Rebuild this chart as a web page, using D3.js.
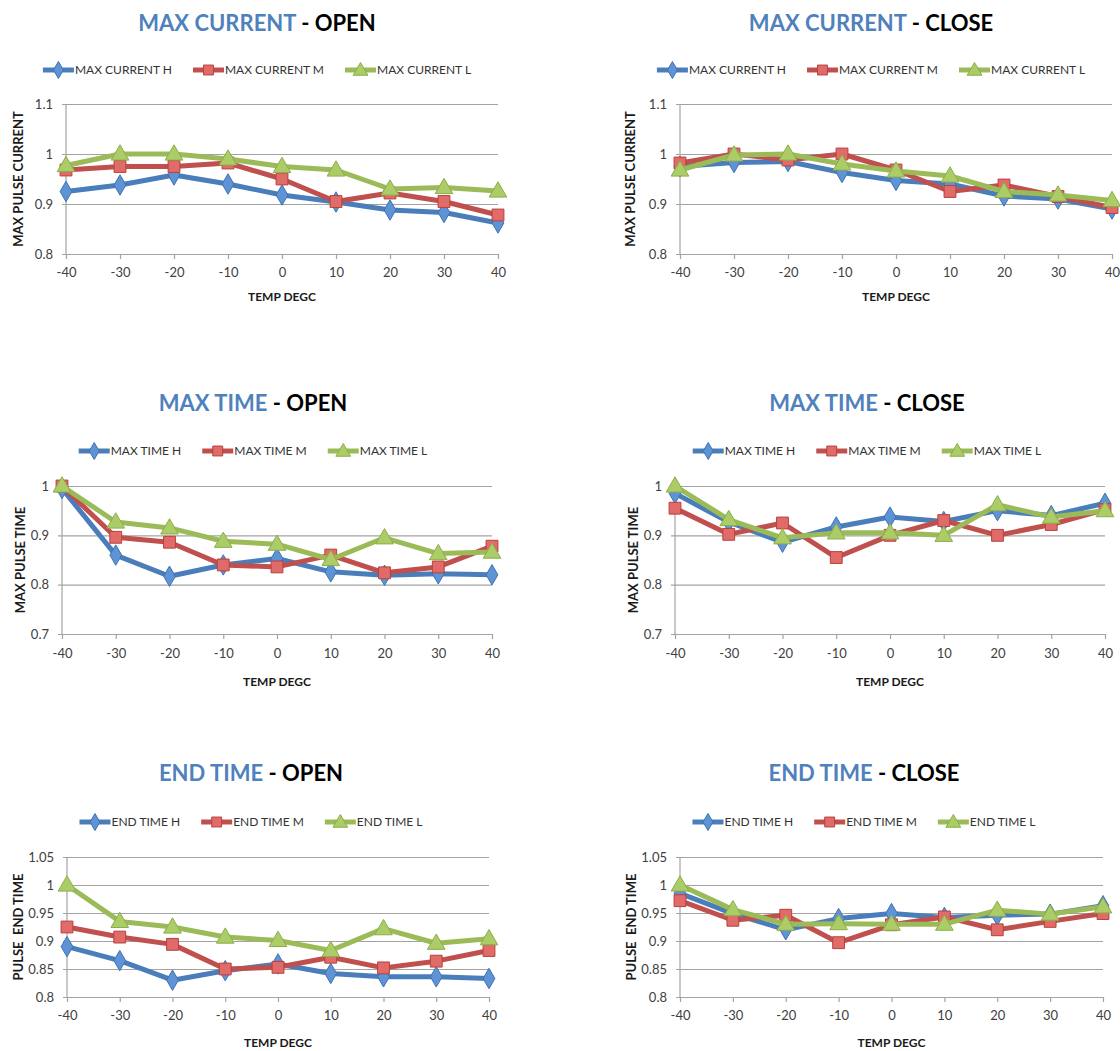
<!DOCTYPE html>
<html><head><meta charset="utf-8">
<script src="https://cdn.jsdelivr.net/npm/d3@7"></script>
<style>body{margin:0;background:#fff}svg{display:block}</style>
</head><body>
<script>
// ---------- DATA ----------
const temps = [-40, -30, -20, -10, 0, 10, 20, 30, 40];

const curOpenH  = [0.925, 0.938, 0.958, 0.940, 0.918, 0.904, 0.888, 0.883, 0.862];
const curOpenM  = [0.968, 0.975, 0.975, 0.982, 0.950, 0.905, 0.922, 0.905, 0.878];
const curOpenL  = [0.977, 1.000, 1.000, 0.990, 0.975, 0.968, 0.930, 0.933, 0.926];

const curCloseH = [0.975, 0.983, 0.985, 0.963, 0.947, 0.940, 0.916, 0.910, 0.890];
const curCloseM = [0.982, 1.000, 0.988, 1.000, 0.968, 0.925, 0.938, 0.915, 0.893];
const curCloseL = [0.968, 0.998, 1.000, 0.980, 0.966, 0.956, 0.925, 0.918, 0.907];

const timeOpenH  = [0.995, 0.860, 0.817, 0.840, 0.853, 0.826, 0.819, 0.822, 0.820];
const timeOpenM  = [1.000, 0.896, 0.886, 0.840, 0.836, 0.860, 0.824, 0.836, 0.878];
const timeOpenL  = [1.000, 0.927, 0.915, 0.888, 0.882, 0.851, 0.895, 0.863, 0.866];

const timeCloseH = [0.985, 0.927, 0.886, 0.917, 0.937, 0.928, 0.950, 0.940, 0.965];
const timeCloseM = [0.955, 0.902, 0.925, 0.855, 0.900, 0.930, 0.900, 0.922, 0.952];
const timeCloseL = [1.000, 0.932, 0.895, 0.905, 0.905, 0.900, 0.962, 0.937, 0.950];

const endOpenH  = [0.890, 0.865, 0.830, 0.847, 0.859, 0.842, 0.836, 0.836, 0.833];
const endOpenM  = [0.925, 0.907, 0.894, 0.850, 0.853, 0.871, 0.852, 0.864, 0.883];
const endOpenL  = [1.000, 0.935, 0.925, 0.907, 0.901, 0.883, 0.922, 0.896, 0.904];

const endCloseH = [0.985, 0.949, 0.920, 0.940, 0.949, 0.942, 0.946, 0.948, 0.963];
const endCloseM = [0.972, 0.937, 0.946, 0.897, 0.929, 0.943, 0.920, 0.935, 0.949];
const endCloseL = [1.000, 0.956, 0.930, 0.931, 0.930, 0.930, 0.955, 0.948, 0.961];

const ticksCurrent = [0.8, 0.9, 1, 1.1];
const ticksMaxTime = [0.7, 0.8, 0.9, 1];
const ticksEndTime = [0.8, 0.85, 0.9, 0.95, 1, 1.05];

const charts = [
  {t1: "MAX CURRENT", t2: " - OPEN",  yTitle: "MAX PULSE CURRENT", prefix: "MAX CURRENT", ticks: ticksCurrent, series: [curOpenH, curOpenM, curOpenL]},
  {t1: "MAX CURRENT", t2: " - CLOSE", yTitle: "MAX PULSE CURRENT", prefix: "MAX CURRENT", ticks: ticksCurrent, series: [curCloseH, curCloseM, curCloseL]},
  {t1: "MAX TIME", t2: " - OPEN",  yTitle: "MAX PULSE TIME", prefix: "MAX TIME", ticks: ticksMaxTime, series: [timeOpenH, timeOpenM, timeOpenL]},
  {t1: "MAX TIME", t2: " - CLOSE", yTitle: "MAX PULSE TIME", prefix: "MAX TIME", ticks: ticksMaxTime, series: [timeCloseH, timeCloseM, timeCloseL]},
  {t1: "END TIME", t2: " - OPEN",  yTitle: "PULSE  END TIME", prefix: "END TIME", ticks: ticksEndTime, series: [endOpenH, endOpenM, endOpenL]},
  {t1: "END TIME", t2: " - CLOSE", yTitle: "PULSE  END TIME", prefix: "END TIME", ticks: ticksEndTime, series: [endCloseH, endCloseM, endCloseL]}
];
const seriesSuffix = ["H", "M", "L"];
const xTitle = "TEMP DEGC";

// ---------- LAYOUT / STYLE ----------
const layouts = [
  {x0: 66,  x1: 498,  yt: 104, yb: 254, titleY: 23,  cx: 257, legY: 70,  xlabY: 275, xtY: 297, ytX: 18},
  {x0: 680, x1: 1112, yt: 104, yb: 254, titleY: 23,  cx: 871, legY: 70,  xlabY: 275, xtY: 297, ytX: 630},
  {x0: 62,  x1: 492,  yt: 486, yb: 634, titleY: 403, cx: 253, legY: 451, xlabY: 656, xtY: 682, ytX: 20},
  {x0: 675, x1: 1105, yt: 486, yb: 634, titleY: 403, cx: 867, legY: 451, xlabY: 656, xtY: 682, ytX: 633},
  {x0: 67,  x1: 489,  yt: 857, yb: 997, titleY: 773, cx: 251, legY: 822, xlabY: 1018, xtY: 1043, ytX: 18},
  {x0: 680, x1: 1103, yt: 857, yb: 997, titleY: 773, cx: 864, legY: 822, xlabY: 1018, xtY: 1043, ytX: 631}
];
const styles = [
  {line: "#4A7EBB", fill: "#5E94D6", stroke: "#3F72B0", shape: d3.symbolDiamond, size: 120},
  {line: "#C0504D", fill: "#E06B68", stroke: "#B8403D", shape: d3.symbolSquare, size: 140},
  {line: "#9BBB59", fill: "#ABCC66", stroke: "#8CAE4A", shape: d3.symbolTriangle, size: 135}
];
const FONT = "Lato, 'Open Sans', 'DejaVu Sans', sans-serif";

const svg = d3.select("body").append("svg").attr("width", 1120).attr("height", 1051)
  .style("font-family", FONT);

charts.forEach((c, ci) => {
  const L = layouts[ci];
  const g = svg.append("g");
  const x = d3.scalePoint().domain(temps).range([L.x0, L.x1]);
  const y = d3.scaleLinear().domain(d3.extent(c.ticks)).range([L.yb, L.yt]);

  // Y axis with gridlines
  const ya = g.append("g").attr("transform", `translate(${L.x0 - 4},0)`)
    .call(d3.axisLeft(y).tickValues(c.ticks).tickFormat(d => String(+d.toFixed(2)))
      .tickSizeInner(-(L.x1 - L.x0 + 4)).tickSizeOuter(0).tickPadding(9));
  ya.select(".domain").remove();
  ya.selectAll(".tick line").attr("stroke", "#a3a3a3").attr("stroke-width", 1.2);
  ya.selectAll(".tick text").attr("fill", "#404040").style("font-size", "13px").style("font-family", FONT);

  // vertical axis line
  g.append("line").attr("x1", L.x0).attr("x2", L.x0).attr("y1", L.yt).attr("y2", L.yb)
    .attr("stroke", "#a3a3a3").attr("stroke-width", 1.2);

  // X axis
  const xa = g.append("g").attr("transform", `translate(0,${L.yb})`)
    .call(d3.axisBottom(x).tickSizeInner(5).tickSizeOuter(0).tickPadding(L.xlabY - L.yb - 12));
  xa.select(".domain").attr("stroke", "#a3a3a3").attr("stroke-width", 1.2);
  xa.selectAll(".tick line").attr("stroke", "#a3a3a3").attr("stroke-width", 1.2);
  xa.selectAll(".tick text").attr("fill", "#404040").style("font-size", "13px").style("font-family", FONT);

  // Titles
  const t = g.append("text").attr("x", L.cx).attr("y", L.titleY).attr("dy", "0.35em")
    .attr("text-anchor", "middle").style("font-size", "22px").style("font-weight", "bold");
  t.append("tspan").attr("fill", "#4F81BD").text(c.t1);
  t.append("tspan").attr("fill", "#000").text(c.t2);

  g.append("text").attr("x", (L.x0 + L.x1) / 2).attr("y", L.xtY).attr("dy", "0.35em")
    .attr("text-anchor", "middle").style("font-size", "12px").style("font-weight", "bold")
    .attr("fill", "#1a1a1a").text(xTitle);

  g.append("text").attr("transform", `translate(${L.ytX},${(L.yt + L.yb) / 2}) rotate(-90)`)
    .attr("dy", "0.35em").attr("text-anchor", "middle").style("font-size", "13px")
    .style("font-weight", "bold").attr("fill", "#1a1a1a").style("white-space", "pre").text(c.yTitle);

  // Lines + markers
  const line = d3.line().x((d, i) => x(temps[i])).y(d => y(d));
  c.series.forEach((s, si) => {
    const st = styles[si];
    g.append("path").datum(s).attr("d", line).attr("fill", "none")
      .attr("stroke", st.line).attr("stroke-width", 5).attr("stroke-linejoin", "round");
    g.selectAll(null).data(s).join("path")
      .attr("d", d3.symbol().type(st.shape).size(st.size))
      .attr("transform", (d, i) => `translate(${x(temps[i])},${y(d) + (si === 2 ? 1 : 0)})`)
      .attr("fill", st.fill).attr("stroke", st.stroke).attr("stroke-width", 1);
  });

  // Legend
  const leg = g.append("g");
  let cursor = 0;
  seriesSuffix.forEach((suf, si) => {
    const st = styles[si];
    const it = leg.append("g").attr("transform", `translate(${cursor},0)`);
    it.append("line").attr("x1", 0).attr("x2", 31).attr("y1", 0).attr("y2", 0)
      .attr("stroke", st.line).attr("stroke-width", 5);
    it.append("path").attr("d", d3.symbol().type(st.shape).size(st.size * 0.7))
      .attr("transform", `translate(15.5,${si === 2 ? 1 : 0})`).attr("fill", st.fill).attr("stroke", st.stroke);
    const tx = it.append("text").attr("x", 32).attr("dy", "0.35em").style("font-size", "12px")
      .attr("fill", "#333").text(c.prefix + " " + suf);
    const w = 32 + tx.node().getComputedTextLength();
    cursor += w + 21;
  });
  const total = cursor - 21;
  leg.attr("transform", `translate(${L.cx - total / 2},${L.legY})`);
});
</script>
</body></html>
